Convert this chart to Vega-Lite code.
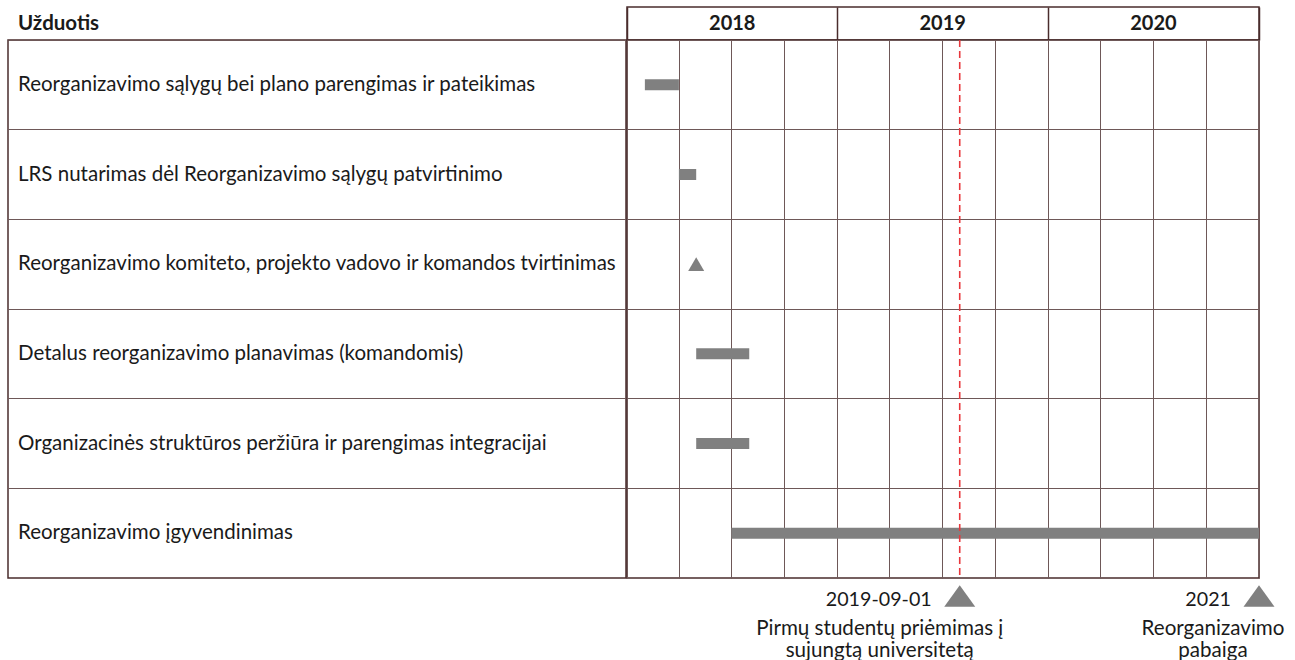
{
  "$schema": "https://vega.github.io/schema/vega-lite/v6.json",
  "background": "white",
  "padding": {"left": 7, "top": 6, "right": 0, "bottom": 0},
  "spacing": -2,
  "datasets": {
    "tasks": [
      {"task": "Reorganizavimo sąlygų bei plano parengimas ir pateikimas", "start": "2018-02-01", "end": "2018-04-01", "kind": "bar"},
      {"task": "LRS nutarimas dėl Reorganizavimo sąlygų patvirtinimo", "start": "2018-04-01", "end": "2018-05-01", "kind": "bar"},
      {"task": "Reorganizavimo komiteto, projekto vadovo ir komandos tvirtinimas", "start": "2018-05-01", "end": "2018-05-01", "kind": "milestone"},
      {"task": "Detalus reorganizavimo planavimas (komandomis)", "start": "2018-05-01", "end": "2018-08-01", "kind": "bar"},
      {"task": "Organizacinės struktūros peržiūra ir parengimas integracijai", "start": "2018-05-01", "end": "2018-08-01", "kind": "bar"},
      {"task": "Reorganizavimo įgyvendinimas", "start": "2018-07-01", "end": "2021-01-01", "kind": "bar"}
    ],
    "years": [
      {"year": "2018", "start": "2018-01-01"},
      {"year": "2019", "start": "2019-01-01"},
      {"year": "2020", "start": "2020-01-01"}
    ],
    "marker": [
      {"date": "2019-08-01"}
    ],
    "notes": [
      {"id": "a", "date": "2019-08-01", "label": "2019-09-01", "desc": ["Pirmų studentų priėmimas į", "sujungtą universitetą"]},
      {"id": "b", "date": "2021-01-01", "label": "2021", "desc": ["Reorganizavimo", "pabaiga"]}
    ]
  },
  "hconcat": [
    {
      "spacing": 0,
      "bounds": "flush",
      "vconcat": [
        {
          "width": 618,
          "height": 33,
          "view": {"stroke": null},
          "data": {"values": [{"label": "Užduotis"}]},
          "mark": {"type": "text", "align": "left", "baseline": "middle", "dx": 10, "fontSize": 20.5, "fontWeight": "bold", "font": "Lato", "color": "#1a1a1a"},
          "encoding": {
            "x": {"datum": 0, "type": "quantitative", "scale": {"domain": [0, 1]}, "axis": null},
            "text": {"field": "label"}
          }
        },
        {
          "width": 618,
          "height": 538,
          "data": {"name": "tasks"},
          "mark": {"type": "text", "align": "left", "baseline": "middle", "dx": 10, "fontSize": 20.5, "font": "Lato", "color": "#1a1a1a"},
          "encoding": {
            "x": {"datum": 0, "type": "quantitative", "scale": {"domain": [0, 1]}, "axis": null},
            "y": {"field": "task", "type": "nominal", "sort": null, "scale": {"type": "band", "paddingInner": 0, "paddingOuter": 0},
                  "axis": {"grid": true, "bandPosition": 0, "labels": false, "ticks": false, "domain": false, "title": null, "gridColor": "#6e5858", "gridWidth": 1}},
            "text": {"field": "task"}
          }
        }
      ]
    },
    {
      "spacing": 0,
      "bounds": "flush",
      "vconcat": [
        {
          "width": 632,
          "height": 33,
          "data": {"name": "years"},
          "mark": {"type": "text", "align": "center", "baseline": "middle", "fontSize": 20, "fontWeight": "bold", "font": "Lato", "color": "#1a1a1a"},
          "encoding": {
            "x": {"field": "start", "type": "temporal", "timeUnit": "utcyear", "bandPosition": 0.5,
                  "scale": {"type": "utc", "domain": [{"year": 2018, "month": 1, "date": 1, "utc": true}, {"year": 2021, "month": 1, "date": 1, "utc": true}]},
                  "axis": {"grid": true, "labels": false, "ticks": false, "domain": false, "title": null, "gridColor": "#4a2c2c", "gridWidth": 1.5, "tickCount": {"interval": "year", "step": 1}}},
            "text": {"field": "year"}
          }
        },
        {
          "width": 632,
          "height": 538,
          "layer": [
            {
              "data": {"name": "tasks"},
              "mark": {"type": "bar", "size": 11, "color": "#808080"},
              "encoding": {
                "x": {"field": "start", "type": "temporal", "scale": {"type": "utc", "domain": [{"year": 2018, "month": 1, "date": 1, "utc": true}, {"year": 2021, "month": 1, "date": 1, "utc": true}]},
                      "axis": {"grid": true, "labels": false, "ticks": false, "domain": false, "title": null, "gridColor": "#6e5858", "gridWidth": 1, "tickCount": {"interval": "month", "step": 3}}},
                "x2": {"field": "end"},
                "y": {"field": "task", "type": "nominal", "sort": null, "scale": {"paddingInner": 0, "paddingOuter": 0},
                      "axis": {"grid": true, "bandPosition": 0, "labels": false, "ticks": false, "domain": false, "title": null, "gridColor": "#6e5858", "gridWidth": 1}}
              }
            },
            {
              "data": {"name": "tasks"},
              "transform": [{"filter": "datum.kind === 'milestone'"}],
              "mark": {"type": "point", "shape": "triangle-up", "filled": true, "size": 256, "color": "#808080", "opacity": 1},
              "encoding": {
                "x": {"field": "start", "type": "temporal"},
                "y": {"field": "task", "type": "nominal", "sort": null}
              }
            },
            {
              "data": {"name": "marker"},
              "mark": {"type": "rule", "color": "#e8383d", "strokeDash": [7, 4], "strokeWidth": 1.6},
              "encoding": {
                "x": {"field": "date", "type": "temporal"}
              }
            }
          ]
        },
        {
          "width": 632,
          "height": 36,
          "view": {"stroke": null},
          "data": {"name": "notes"},
          "encoding": {
            "x": {"field": "date", "type": "temporal", "scale": {"type": "utc", "domain": [{"year": 2018, "month": 1, "date": 1, "utc": true}, {"year": 2021, "month": 1, "date": 1, "utc": true}]}, "axis": null}
          },
          "layer": [
            {
              "mark": {"type": "point", "shape": "M0,-0.7L1,0.7L-1,0.7Z", "filled": true, "size": 961, "color": "#808080", "opacity": 1, "clip": false}
            },
            {
              "mark": {"type": "text", "align": "right", "baseline": "middle", "dx": -28, "dy": 4, "fontSize": 19.7, "font": "Lato", "color": "#1a1a1a"},
              "encoding": {"text": {"field": "label"}}
            },
            {
              "transform": [{"filter": "datum.id === 'a'"}],
              "mark": {"type": "text", "align": "center", "baseline": "middle", "dx": -80, "dy": 33, "lineHeight": 22, "fontSize": 20.6, "font": "Lato", "color": "#1a1a1a"},
              "encoding": {"text": {"field": "desc"}}
            },
            {
              "transform": [{"filter": "datum.id === 'b'"}],
              "mark": {"type": "text", "align": "center", "baseline": "middle", "dx": -46, "dy": 33, "lineHeight": 22, "fontSize": 20.6, "font": "Lato", "color": "#1a1a1a"},
              "encoding": {"text": {"field": "desc"}}
            }
          ]
        }
      ]
    }
  ],
  "config": {
    "view": {"stroke": "#4a2c2c", "strokeWidth": 1.5},
    "axis": {"gridOpacity": 1}
  }
}
